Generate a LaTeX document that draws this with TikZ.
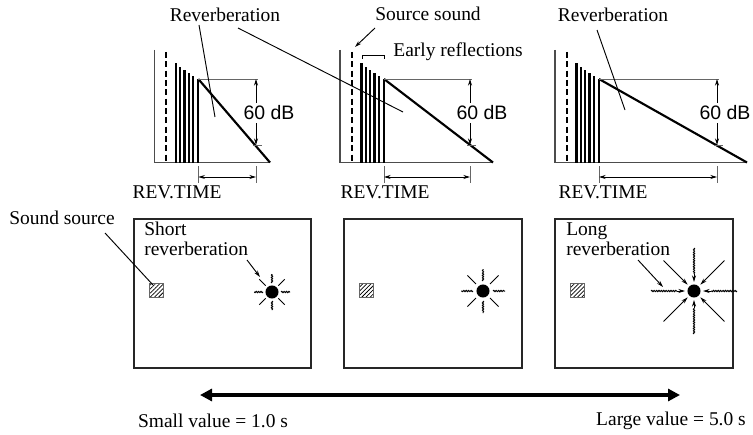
\documentclass[tikz,border=0pt]{standalone}
\usepackage{fontspec}
\setmainfont{Liberation Serif}
\newfontfamily\sansf{Liberation Sans}
\usetikzlibrary{arrows.meta,decorations.pathmorphing,patterns.meta}
\newcommand\revgraph[5]{%
  \draw[axisline] (#1,50) -- (#1,162.5) -- (#2,162.5);
  \draw[srcline] (#1+12,52) -- (#1+12,162.5);
  \foreach \dx/\t in {21.5/63,26/67,30.3/70.5,34.6/73.5,39/76.5,44/79}
    \draw[barline] (#1+\dx,162.5) -- (#1+\dx,\t);
  \draw[decay] (#1+44,79) -- (#2,162.5);
  \draw[guide] (#1+44,79) -- (#3+2,79);
  \draw[guide] (#3-3,145) -- (#3+6,145);
  \node[db] (db#5) at (#3+#4,113) {60 dB};
  \draw[ptr,tip] (#3,103) -- (#3,79);
  \draw[ptr,tip] (#3,123) -- (#3,145);
  \draw[guide] (#1+44,166) -- (#1+44,183);
  \draw[guide] (#3,166) -- (#3,183);
  \draw[dimarrow] (#1+44,177) -- (#3,177);
}
\newcommand\sunmark[4]{%
  \fill (#1,#2) circle[radius=4.9pt];
  \foreach \ang in {45,135,225,315}
    \draw[ray] ([shift={(\ang:#3)}]#1,#2) -- ([shift={(\ang:#4)}]#1,#2);
  \foreach \ang in {0,90,180,270}
    \draw[ray,wavy] ([shift={(\ang:#3)}]#1,#2) -- ([shift={(\ang:#4)}]#1,#2);
}
\begin{document}
\begin{tikzpicture}[x=0.75pt,y=-0.75pt,
  txt/.style={font=\fontsize{14.6}{15}\selectfont, inner sep=0pt},
  db/.style={font=\sansf\fontsize{14.6}{15}\selectfont, inner sep=0pt},
  axisline/.style={draw=black!70, line width=0.8pt},
  guide/.style={draw=black!60, line width=0.6pt},
  barline/.style={line width=1.7pt},
  decay/.style={line width=1.6pt},
  srcline/.style={line width=1.3pt, dash pattern=on 4.5pt off 2.5pt},
  ptr/.style={line width=0.7pt},
  tip/.style={-{Stealth[length=5pt,width=3pt]}},
  dimarrow/.style={line width=0.7pt, {Stealth[length=5pt,width=3pt]}-{Stealth[length=5pt,width=3pt]}},
  room/.style={draw=black!85, line width=1.9pt},
  src/.style={draw=black!60, line width=0.6pt, pattern={Lines[angle=45,distance=2.2pt,line width=0.55pt]}},
  wavy/.style={decorate, decoration={snake, amplitude=0.45pt, segment length=1.8pt}},
  ray/.style={line width=0.75pt},
]
\useasboundingbox (0,0) rectangle (753,435);

% graphs
\revgraph{154.3}{270}{256}{13}{a}
\revgraph{340}{493}{470}{12}{b}
\revgraph{555}{747}{717}{8}{c}

% top labels
\node[txt] (rv1) at (225,15) {Reverberation};
\node[txt] (ss) at (428,14) {Source sound};
\node[txt] (er) at (458,52) {Early reflections};
\node[txt] (rv3) at (613,15) {Reverberation};
\node[txt] (rt1) at (177,192) {REV.TIME};
\node[txt] (rt2) at (385,192) {REV.TIME};
\node[txt] (rt3) at (603,192) {REV.TIME};

\coordinate (p1a) at (199,25);  \coordinate (p1b) at (215,117);
\coordinate (p2a) at (238,28);  \coordinate (p2b) at (403,112);
\coordinate (p3a) at (597,30);  \coordinate (p3b) at (625,110);
\coordinate (ssa) at (375,28);  \coordinate (ssb) at (355,47);
\draw[ptr] (p1a) -- (p1b);
\draw[ptr] (p2a) -- (p2b);
\draw[ptr] (p3a) -- (p3b);
\draw[ptr,tip] (ssa) -- (ssb);
\draw[ptr] (362,59) -- (362,55) -- (384,55) -- (384,59);

% rooms
\draw[room] (134,219) rectangle (311,368);
\draw[room] (344,219) rectangle (522,368);
\draw[room] (555,219) rectangle (733,368);

\draw[src] (149,283) rectangle (163,297);
\draw[src] (359,283) rectangle (373,297);
\draw[src] (570,283) rectangle (584,297);

\node[txt] (snd) at (62,218) {Sound source};
\coordinate (snda) at (105,233); \coordinate (sndb) at (153,285);
\draw[ptr] (snda) -- (sndb);

\node[txt,align=left,anchor=north west] (shortr) at (144,222) {Short\\reverberation};
\node[txt,align=left,anchor=north west] (longr) at (566,222) {Long\\reverberation};

% stars
\sunmark{272}{292}{9}{18}
\sunmark{483}{291}{10}{22}

\fill (694,291) circle[radius=4.9pt];
\foreach \ang in {45,135,225,315}
  \draw[ray,tip] ([shift={(\ang:43)}]694,291) -- ([shift={(\ang:9)}]694,291);
\foreach \ang in {0,90,180,270}{
  \draw[ray,wavy] ([shift={(\ang:43)}]694,291) -- ([shift={(\ang:17)}]694,291);
  \draw[ray,tip] ([shift={(\ang:17)}]694,291) -- ([shift={(\ang:9)}]694,291);
}

\coordinate (sha) at (247,260); \coordinate (shb) at (260,277);
\draw[ptr,tip] (sha) -- (shb);
\coordinate (lga) at (638,260); \coordinate (lgb) at (663,287);
\draw[ptr,tip] (lga) -- (lgb);

% scale arrow
\coordinate (arl) at (200,395); \coordinate (arr) at (680,395);
\draw[line width=2.4pt, {Triangle[length=9pt,width=9pt]}-{Triangle[length=9pt,width=9pt]}] (arl) -- (arr);
\node[txt] (smallv) at (213,421) {Small value = 1.0 s};
\node[txt] (largev) at (671,421) {Large value = 5.0 s};
\end{tikzpicture}
\end{document}
